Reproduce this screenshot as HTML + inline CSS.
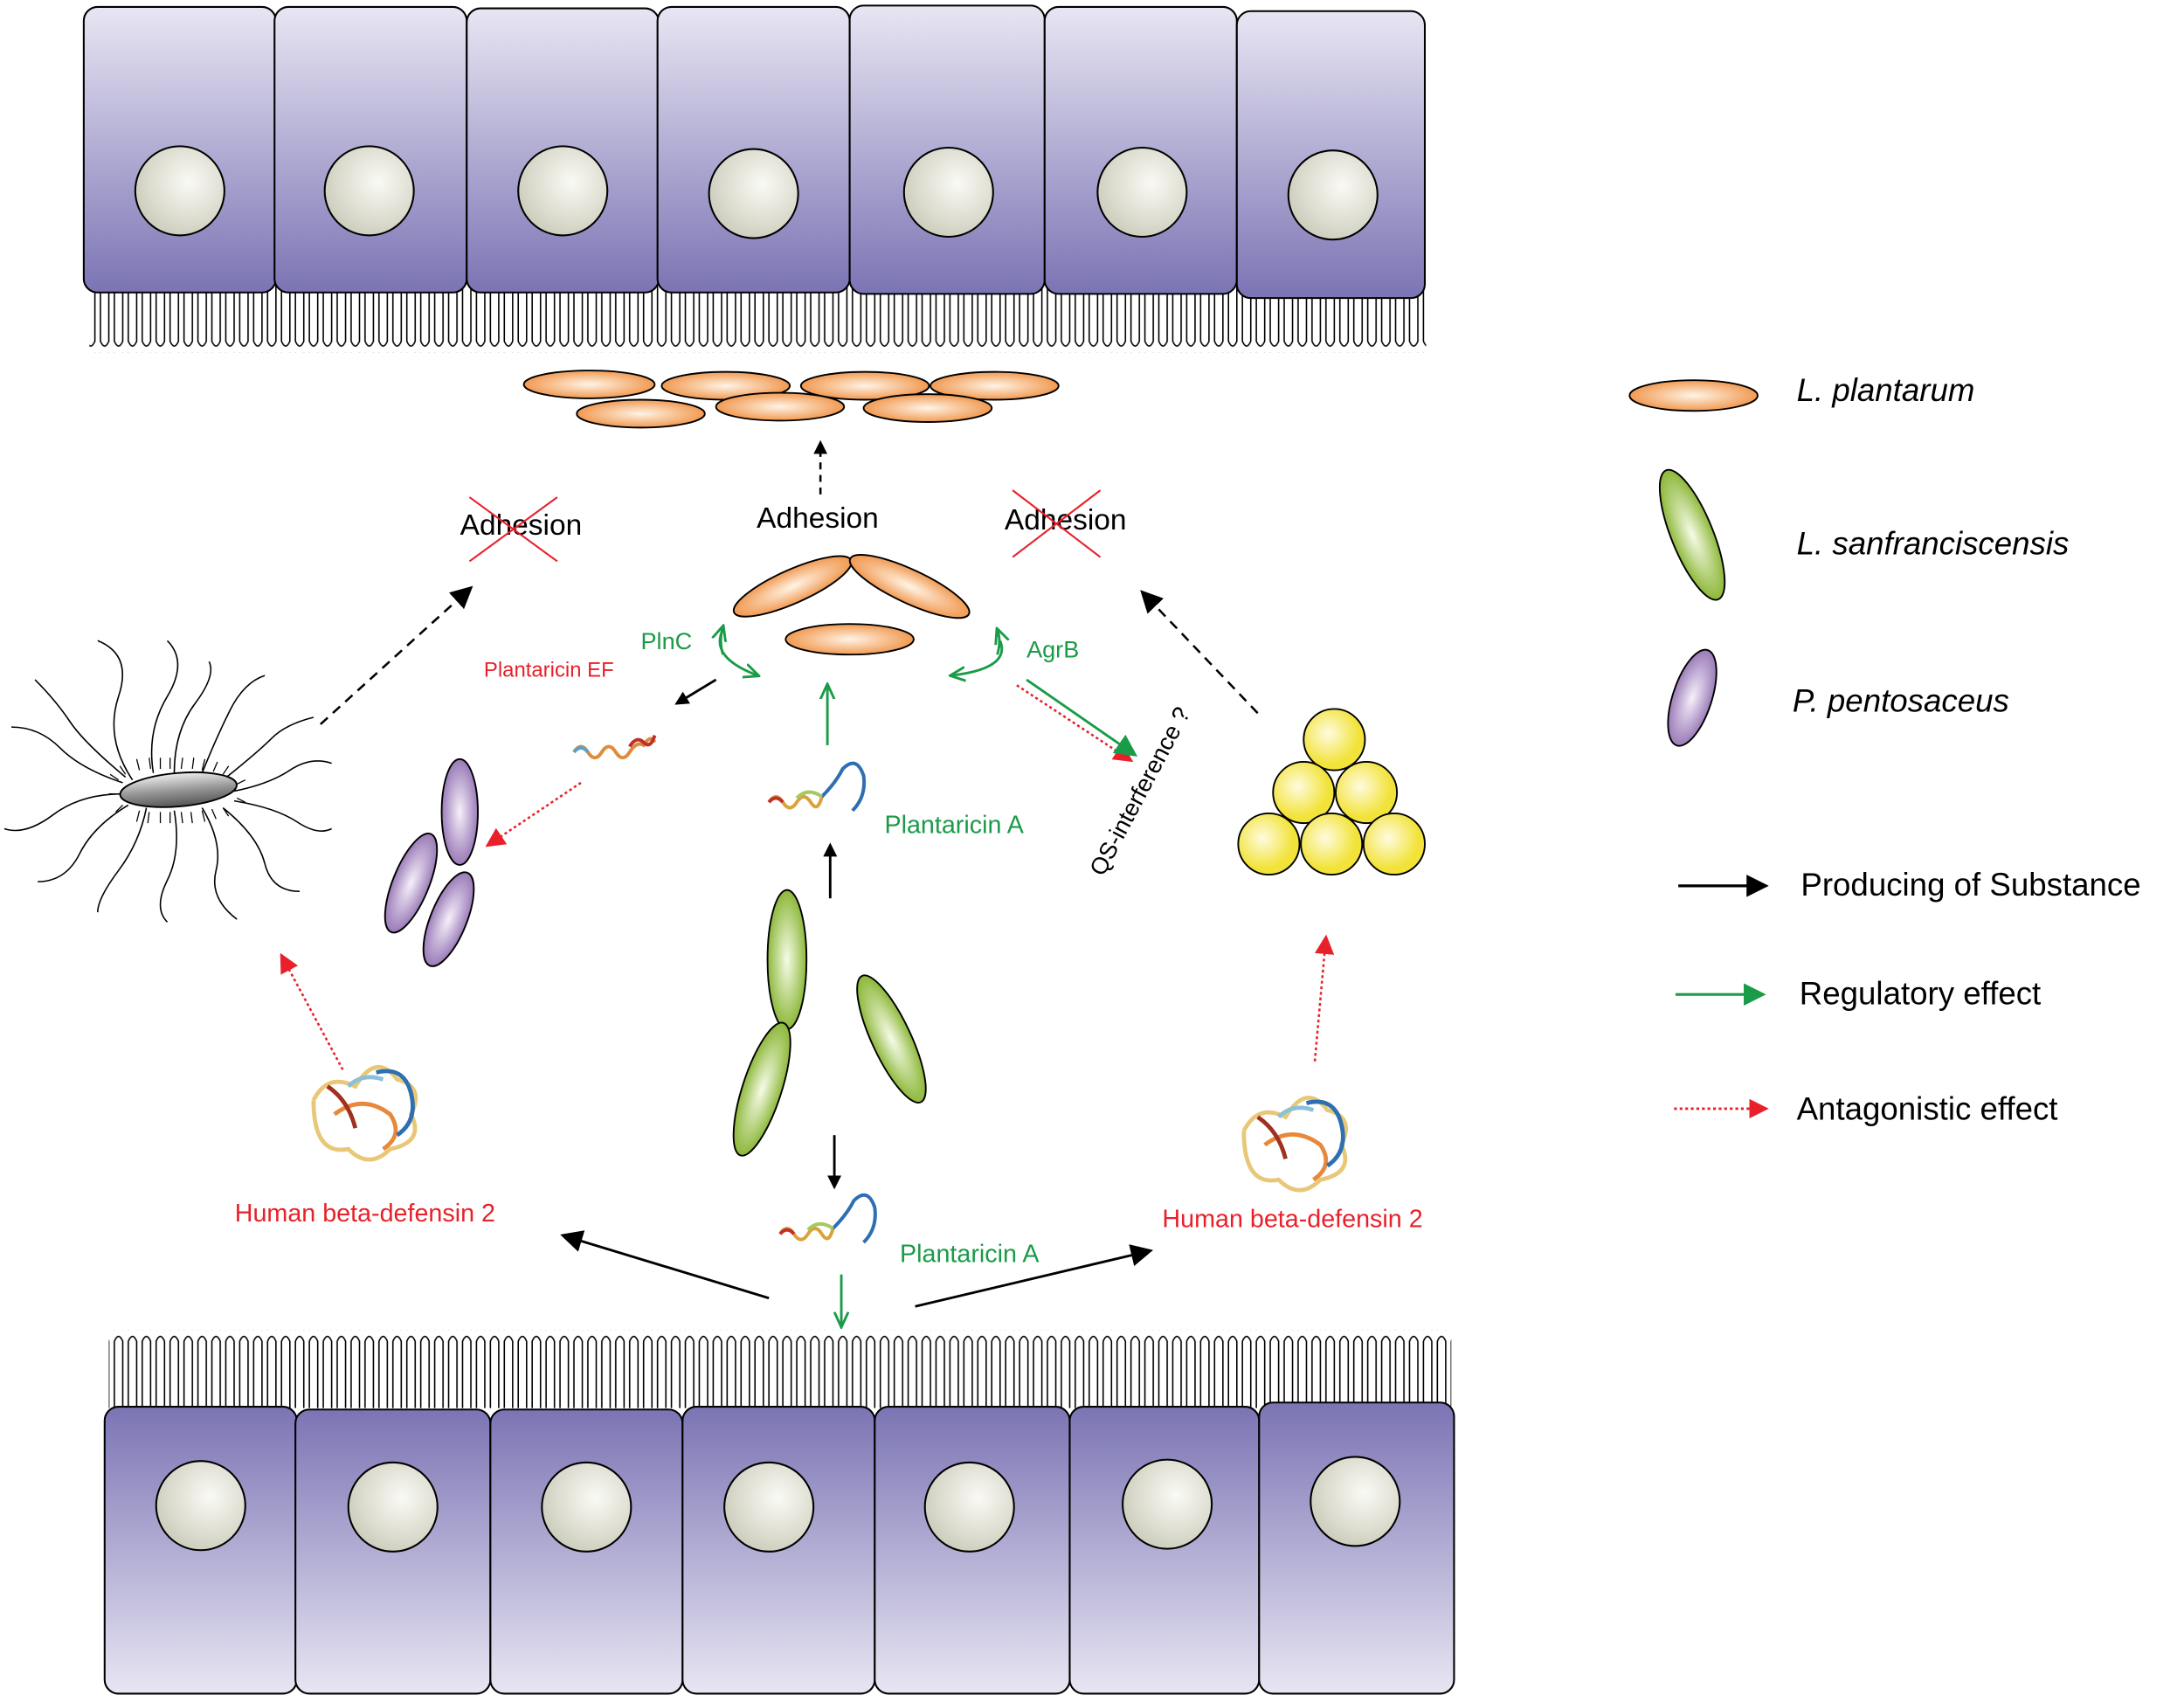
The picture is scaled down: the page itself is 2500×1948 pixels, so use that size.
<!DOCTYPE html>
<html><head><meta charset="utf-8"><style>
html,body{margin:0;padding:0;background:#fff}
svg{display:block}
text{font-family:"Liberation Sans",sans-serif}
</style></head><body>
<svg width="2500" height="1948" viewBox="0 0 1568 1222" xmlns="http://www.w3.org/2000/svg">
<defs>
<linearGradient id="ct" x1="0" y1="0" x2="0" y2="1"><stop offset="0" stop-color="#e8e6f3"/><stop offset="1" stop-color="#7b74b4"/></linearGradient>
<linearGradient id="cb" x1="0" y1="0" x2="0" y2="1"><stop offset="0" stop-color="#7b74b4"/><stop offset="1" stop-color="#e8e6f3"/></linearGradient>
<radialGradient id="nu" cx="0.6" cy="0.4" r="0.7"><stop offset="0" stop-color="#fafaf5"/><stop offset="1" stop-color="#c9c9b8"/></radialGradient>
<radialGradient id="og"><stop offset="0" stop-color="#fff4e6"/><stop offset="1" stop-color="#f19a52"/></radialGradient>
<radialGradient id="gg"><stop offset="0" stop-color="#f6fbe8"/><stop offset="1" stop-color="#8db83a"/></radialGradient>
<radialGradient id="pg"><stop offset="0" stop-color="#f6f0fa"/><stop offset="1" stop-color="#9a7bb8"/></radialGradient>
<radialGradient id="yg" cx="0.4" cy="0.4"><stop offset="0" stop-color="#fffbe0"/><stop offset="1" stop-color="#f2e33a"/></radialGradient>
<linearGradient id="bg" x1="0" y1="0" x2="0" y2="1"><stop offset="0" stop-color="#eee"/><stop offset="0.5" stop-color="#999"/><stop offset="1" stop-color="#555"/></linearGradient>
<pattern id="vt" x="0" y="205" width="10" height="48" patternUnits="userSpaceOnUse"><path d="M2,0 L2,40 Q5,47 8,40 L8,0" fill="none" stroke="#000" stroke-width="1"/></pattern>
<pattern id="vb" x="0" y="955" width="10" height="56" patternUnits="userSpaceOnUse"><path d="M2,56 L2,8 Q5,1 8,8 L8,56" fill="none" stroke="#000" stroke-width="1"/></pattern>
<marker id="ak" markerWidth="10" markerHeight="10" refX="8" refY="5" orient="auto" markerUnits="userSpaceOnUse"><path d="M0,0 L10,5 L0,10 Z" fill="#000"/></marker>
<marker id="agm" markerWidth="12" markerHeight="12" refX="10" refY="6" orient="auto" markerUnits="userSpaceOnUse"><path d="M0,1 L11,6 L0,11" fill="none" stroke="#1a9b48" stroke-width="1.8"/></marker>
<marker id="ar" markerWidth="14" markerHeight="14" refX="12" refY="7" orient="auto" markerUnits="userSpaceOnUse"><path d="M0,0 L14,7 L0,14 Z" fill="#e8202a"/></marker>
<marker id="akl" markerWidth="16" markerHeight="16" refX="14" refY="8" orient="auto" markerUnits="userSpaceOnUse"><path d="M0,0 L16,8 L0,16 Z" fill="#000"/></marker>
<marker id="agl" markerWidth="16" markerHeight="16" refX="14" refY="8" orient="auto" markerUnits="userSpaceOnUse"><path d="M0,0 L16,8 L0,16 Z" fill="#1a9b48"/></marker>
</defs>

<rect x="64" y="205" width="960" height="48" fill="url(#vt)"/>
<g stroke="#000" stroke-width="1.3" fill="url(#ct)">
<rect x="60" y="5" width="138" height="205" rx="10"/>
<rect x="197" y="5" width="138" height="205" rx="10"/>
<rect x="335" y="6" width="138" height="204" rx="10"/>
<rect x="472" y="5" width="138" height="205" rx="10"/>
<rect x="610" y="4" width="140" height="207" rx="10"/>
<rect x="750" y="5" width="138" height="206" rx="10"/>
<rect x="888" y="8" width="135" height="206" rx="10"/>
</g>
<g stroke="#000" stroke-width="1.3" fill="url(#nu)">
<circle cx="129" cy="137" r="32"/><circle cx="265" cy="137" r="32"/><circle cx="404" cy="137" r="32"/><circle cx="541" cy="139" r="32"/><circle cx="681" cy="138" r="32"/><circle cx="820" cy="138" r="32"/><circle cx="957" cy="140" r="32"/>
</g>

<rect x="78" y="955" width="964" height="56" fill="url(#vb)"/>
<g stroke="#000" stroke-width="1.3" fill="url(#cb)">
<rect x="75" y="1010" width="138" height="206" rx="10"/>
<rect x="212" y="1012" width="140" height="204" rx="10"/>
<rect x="352" y="1012" width="138" height="204" rx="10"/>
<rect x="490" y="1010" width="138" height="206" rx="10"/>
<rect x="628" y="1010" width="140" height="206" rx="10"/>
<rect x="768" y="1010" width="136" height="206" rx="10"/>
<rect x="904" y="1007" width="140" height="209" rx="10"/>
</g>
<g stroke="#000" stroke-width="1.3" fill="url(#nu)">
<circle cx="144" cy="1081" r="32"/><circle cx="282" cy="1082" r="32"/><circle cx="421" cy="1082" r="32"/><circle cx="552" cy="1082" r="32"/><circle cx="696" cy="1082" r="32"/><circle cx="838" cy="1080" r="32"/><circle cx="973" cy="1078" r="32"/>
</g>

<g stroke="#000" stroke-width="1.2" fill="url(#og)">
<ellipse cx="423" cy="276" rx="47" ry="10"/>
<ellipse cx="521" cy="277" rx="46" ry="10"/>
<ellipse cx="621" cy="277" rx="46" ry="10"/>
<ellipse cx="714" cy="277" rx="46" ry="10"/>
<ellipse cx="460" cy="297" rx="46" ry="10"/>
<ellipse cx="560" cy="292" rx="46" ry="10"/>
<ellipse cx="666" cy="293" rx="46" ry="10"/>
<ellipse cx="569" cy="421" rx="46" ry="12" transform="rotate(-24 569 421)"/>
<ellipse cx="653" cy="421" rx="47" ry="12" transform="rotate(25 653 421)"/>
<ellipse cx="610" cy="459" rx="46" ry="11"/>
</g>

<text x="587" y="379" font-size="21" text-anchor="middle">Adhesion</text>
<line x1="589" y1="355" x2="589" y2="318" stroke="#000" stroke-width="1.6" stroke-dasharray="5,4" marker-end="url(#ak)"/>
<text x="374" y="384" font-size="21" text-anchor="middle">Adhesion</text>
<line x1="337" y1="357" x2="400" y2="403" stroke="#e8202a" stroke-width="1.3"/><line x1="337" y1="403" x2="400" y2="357" stroke="#e8202a" stroke-width="1.3"/>
<text x="765" y="380" font-size="21" text-anchor="middle">Adhesion</text>
<line x1="727" y1="352" x2="790" y2="400" stroke="#e8202a" stroke-width="1.3"/><line x1="727" y1="400" x2="790" y2="352" stroke="#e8202a" stroke-width="1.3"/>

<g fill="none" stroke="#000" stroke-width="1">
<path d="M95,560 q-20,-30 -10,-60 t-15,-40"/><path d="M110,555 q-5,-30 10,-55 t0,-40"/><path d="M125,555 q0,-30 15,-50 t10,-30"/><path d="M145,555 q10,-25 20,-45 t25,-25"/><path d="M160,560 q25,-20 35,-30 t30,-15"/><path d="M168,568 q25,-5 40,-15 t30,-5"/>
<path d="M168,575 q30,5 45,15 t25,5"/><path d="M160,580 q25,20 30,40 t25,20"/><path d="M145,580 q15,25 10,45 t15,35"/><path d="M125,582 q5,30 -5,50 t0,30"/><path d="M105,580 q-5,25 -20,45 t-15,30"/><path d="M92,578 q-25,15 -35,35 t-30,20"/><path d="M88,570 q-30,0 -50,15 t-35,10"/><path d="M88,562 q-30,-10 -45,-25 t-35,-15"/><path d="M90,558 q-30,-25 -40,-40 t-25,-30"/>
</g>
<g stroke="#000" stroke-width="0.8">
<path d="M85,560 l-6,-4 M90,556 l-4,-6 M100,553 l-2,-8 M108,552 l-1,-8 M115,552 l0,-8 M122,552 l0,-8 M130,552 l1,-8 M138,552 l1,-8 M145,553 l2,-8 M153,554 l3,-7 M160,556 l4,-6 M170,563 l6,-3 M170,573 l6,3 M160,580 l4,6 M152,581 l3,7 M145,582 l2,8 M137,583 l1,8 M130,583 l1,8 M122,583 l0,8 M115,583 l0,8 M107,583 l-1,8 M100,582 l-2,8 M88,578 l-5,5 M85,570 l-7,0"/>
</g>
<ellipse cx="128" cy="567" rx="42" ry="12" transform="rotate(-5 128 567)" fill="url(#bg)" stroke="#000" stroke-width="1.2"/>
<line x1="230" y1="520" x2="338" y2="422" stroke="#000" stroke-width="1.6" stroke-dasharray="7,5" marker-end="url(#akl)"/>

<g stroke="#000" stroke-width="1.2" fill="url(#yg)">
<circle cx="958" cy="531" r="22"/><circle cx="936" cy="569" r="22"/><circle cx="981" cy="569" r="22"/><circle cx="911" cy="606" r="22"/><circle cx="956" cy="606" r="22"/><circle cx="1001" cy="606" r="22"/>
</g>
<line x1="903" y1="512" x2="820" y2="425" stroke="#000" stroke-width="1.6" stroke-dasharray="7,5" marker-end="url(#akl)"/>
<text transform="translate(792,630) rotate(-62)" font-size="17">QS-interference ?</text>

<g stroke="#000" stroke-width="1.2" fill="url(#pg)">
<ellipse cx="330" cy="583" rx="13" ry="38"/>
<ellipse cx="295" cy="634" rx="13" ry="38" transform="rotate(22 295 634)"/>
<ellipse cx="322" cy="660" rx="13" ry="36" transform="rotate(22 322 660)"/>
</g>
<g stroke="#000" stroke-width="1.2" fill="url(#gg)">
<ellipse cx="565" cy="689" rx="14" ry="50"/>
<ellipse cx="547" cy="782" rx="14" ry="50" transform="rotate(18 547 782)"/>
<ellipse cx="640" cy="746" rx="14" ry="50" transform="rotate(-25 640 746)"/>
</g>

<g fill="none" stroke-width="2.5">
<path d="M412,540 q5,-8 10,0 t10,0 t10,0 t10,0 t10,-5 q5,-8 8,-2" stroke="#e08a3a"/>
<path d="M412,540 q5,-6 10,0" stroke="#5aa0c8"/><path d="M452,536 q5,-8 10,-3 t8,-5" stroke="#c0302a"/>
<path d="M552,576 q5,-8 10,0 t10,0 t10,0 t8,-4" stroke="#d9a23a"/><path d="M552,576 q5,-6 10,0" stroke="#c0302a"/>
<path d="M590,572 q10,-10 15,-20 q10,-10 15,5 q2,15 -8,25" stroke="#2d6fb0"/><path d="M572,573 q8,-8 18,-1" stroke="#a8c860"/>
<path d="M560,886 q5,-8 10,0 t10,0 t10,0 t8,-4" stroke="#d9a23a"/><path d="M560,886 q5,-6 10,0" stroke="#c0302a"/>
<path d="M598,882 q10,-10 15,-20 q10,-10 15,5 q2,15 -8,25" stroke="#2d6fb0"/><path d="M580,883 q8,-8 18,-1" stroke="#a8c860"/>
</g>
<g fill="none" stroke-width="3">
<path d="M225,790 q10,-20 30,-10 q15,-25 30,-5 q20,5 10,25 q10,20 -15,25 q-15,15 -30,0 q-25,5 -25,-35" stroke="#e8c878"/>
<path d="M240,800 q20,-15 40,0 q10,15 -5,25" stroke="#e8883a"/>
<path d="M270,770 q20,-5 25,15 q5,20 -10,30" stroke="#2d6fb0"/>
<path d="M235,780 q15,10 20,30" stroke="#a03020"/><path d="M250,780 q10,-10 25,-5" stroke="#8cc0d8"/>
<path d="M893,812 q10,-20 30,-10 q15,-25 30,-5 q20,5 10,25 q10,20 -15,25 q-15,15 -30,0 q-25,5 -25,-35" stroke="#e8c878"/>
<path d="M908,822 q20,-15 40,0 q10,15 -5,25" stroke="#e8883a"/>
<path d="M938,792 q20,-5 25,15 q5,20 -10,30" stroke="#2d6fb0"/>
<path d="M903,802 q15,10 20,30" stroke="#a03020"/><path d="M918,802 q10,-10 25,-5" stroke="#8cc0d8"/>
</g>

<text x="394" y="486" font-size="15" fill="#e8202a" text-anchor="middle">Plantaricin EF</text>
<text x="460" y="466" font-size="17" fill="#1a9b48">PlnC</text>
<text x="737" y="472" font-size="17" fill="#1a9b48">AgrB</text>
<text x="635" y="598" font-size="18" fill="#1a9b48">Plantaricin A</text>
<text x="646" y="906" font-size="18" fill="#1a9b48">Plantaricin A</text>
<text x="262" y="877" font-size="18" fill="#e8202a" text-anchor="middle">Human beta-defensin 2</text>
<text x="928" y="881" font-size="18" fill="#e8202a" text-anchor="middle">Human beta-defensin 2</text>

<line x1="514" y1="488" x2="486" y2="505" stroke="#000" stroke-width="1.8" marker-end="url(#ak)"/>
<path d="M519,452 q-10,20 25,33" fill="none" stroke="#1a9b48" stroke-width="1.8" marker-end="url(#agm)"/>
<path d="M519,470 q-3,-10 0,-20" fill="none" stroke="#1a9b48" stroke-width="1.8" marker-end="url(#agm)"/>
<path d="M718,460 q8,20 -35,25" fill="none" stroke="#1a9b48" stroke-width="1.8" marker-end="url(#agm)"/>
<path d="M716,470 q3,-10 0,-18" fill="none" stroke="#1a9b48" stroke-width="1.8" marker-end="url(#agm)"/>
<line x1="594" y1="535" x2="594" y2="492" stroke="#1a9b48" stroke-width="1.8" marker-end="url(#agm)"/>
<line x1="596" y1="645" x2="596" y2="607" stroke="#000" stroke-width="1.8" marker-end="url(#ak)"/>
<line x1="599" y1="815" x2="599" y2="852" stroke="#000" stroke-width="1.8" marker-end="url(#ak)"/>
<line x1="604" y1="915" x2="604" y2="952" stroke="#1a9b48" stroke-width="1.8" marker-end="url(#agm)"/>
<line x1="552" y1="932" x2="404" y2="887" stroke="#000" stroke-width="1.8" marker-end="url(#akl)"/>
<line x1="657" y1="938" x2="826" y2="898" stroke="#000" stroke-width="1.8" marker-end="url(#akl)"/>
<line x1="246" y1="768" x2="202" y2="686" stroke="#e8202a" stroke-width="1.6" stroke-dasharray="2,2" marker-end="url(#ar)"/>
<line x1="944" y1="762" x2="952" y2="673" stroke="#e8202a" stroke-width="1.6" stroke-dasharray="2,2" marker-end="url(#ar)"/>
<line x1="417" y1="562" x2="350" y2="607" stroke="#e8202a" stroke-width="1.6" stroke-dasharray="2,2" marker-end="url(#ar)"/>
<line x1="730" y1="492" x2="812" y2="546" stroke="#e8202a" stroke-width="1.6" stroke-dasharray="2,2" marker-end="url(#ar)"/>
<line x1="737" y1="488" x2="815" y2="542" stroke="#1a9b48" stroke-width="1.8" marker-end="url(#agl)"/>

<ellipse cx="1216" cy="284" rx="46" ry="11" fill="url(#og)" stroke="#000" stroke-width="1.2"/>
<text x="1290" y="288" font-size="23" font-style="italic">L. plantarum</text>
<ellipse cx="1215" cy="384" rx="15" ry="50" transform="rotate(-22 1215 384)" fill="url(#gg)" stroke="#000" stroke-width="1.2"/>
<text x="1290" y="398" font-size="23" font-style="italic">L. sanfranciscensis</text>
<ellipse cx="1215" cy="501" rx="14" ry="36" transform="rotate(18 1215 501)" fill="url(#pg)" stroke="#000" stroke-width="1.2"/>
<text x="1287" y="511" font-size="23" font-style="italic">P. pentosaceus</text>
<line x1="1205" y1="636" x2="1268" y2="636" stroke="#000" stroke-width="2" marker-end="url(#akl)"/>
<text x="1293" y="643" font-size="23">Producing of Substance</text>
<line x1="1203" y1="714" x2="1266" y2="714" stroke="#1a9b48" stroke-width="2" marker-end="url(#agl)"/>
<text x="1292" y="721" font-size="23">Regulatory effect</text>
<line x1="1202" y1="796" x2="1268" y2="796" stroke="#e8202a" stroke-width="1.8" stroke-dasharray="2,2" marker-end="url(#ar)"/>
<text x="1290" y="804" font-size="23">Antagonistic effect</text>
</svg>
</body></html>
